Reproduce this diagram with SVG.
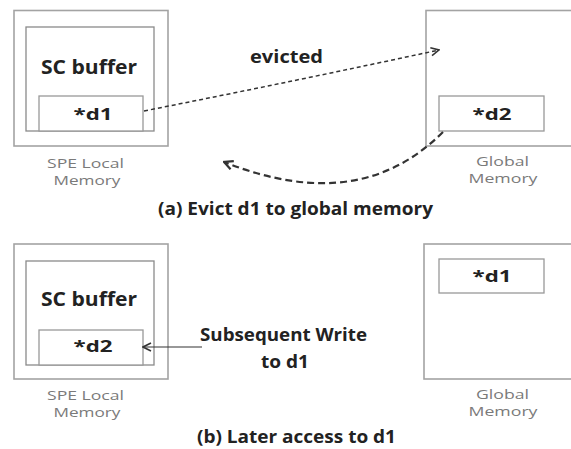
<svg xmlns="http://www.w3.org/2000/svg" width="571" height="449" viewBox="0 0 571 449">
  <style>
    .outer { fill: #fff; stroke: #a3a3a3; stroke-width: 1.6; }
    .inner { fill: #fff; stroke: #8a8a8a; stroke-width: 1.3; }
    .cell  { fill: #fff; stroke: #999; stroke-width: 1.3; }
    .bold  { font-family: "Open Sans", Lato, "Liberation Sans", sans-serif; font-weight: bold; fill: #222; text-anchor: middle; }
    .gray  { font-family: "Open Sans", Lato, "Liberation Sans", sans-serif; fill: #7a7a7a; font-size: 13px; text-anchor: middle; }
    .big   { font-size: 19.5px; }
    .mid   { font-size: 16px; }
    .cap   { font-size: 17px; }
    .lbl   { font-size: 17px; }
  </style>
  <defs>
    <marker id="chev" viewBox="0 0 10 10" refX="9" refY="5" markerWidth="10" markerHeight="10" markerUnits="userSpaceOnUse" orient="auto">
      <polyline points="1,1 9,5 1,9" fill="none" stroke="#333" stroke-width="1.6"/>
    </marker>
    <marker id="chev2" viewBox="0 0 10 10" refX="9" refY="5" markerWidth="11" markerHeight="11" markerUnits="userSpaceOnUse" orient="auto">
      <polyline points="1,1 9,5 1,9" fill="none" stroke="#333" stroke-width="2"/>
    </marker>
  </defs>

  <!-- (a) SPE local memory with SC buffer holding d1 -->
  <g id="spe-local-a">
    <rect class="outer" x="14" y="10.5" width="154" height="135.5"/>
    <rect class="inner" x="26" y="27" width="128" height="104"/>
    <rect class="cell" x="39" y="96" width="104" height="35"/>
    <text class="bold big" x="89" y="74" textLength="96" lengthAdjust="spacingAndGlyphs">SC buffer</text>
    <text class="bold mid" x="93" y="120" textLength="39" lengthAdjust="spacingAndGlyphs">*d1</text>
    <text class="gray" x="85.5" y="168" textLength="77" lengthAdjust="spacingAndGlyphs">SPE Local</text>
    <text class="gray" x="87" y="185" textLength="67" lengthAdjust="spacingAndGlyphs">Memory</text>
  </g>

  <!-- (a) global memory holding d2 -->
  <g id="global-a">
    <rect class="outer" x="426" y="10.5" width="160" height="135.5"/>
    <rect class="cell" x="439" y="96" width="105" height="35"/>
    <text class="bold mid" x="492" y="120" textLength="39" lengthAdjust="spacingAndGlyphs">*d2</text>
    <text class="gray" x="502.5" y="166" textLength="53" lengthAdjust="spacingAndGlyphs">Global</text>
    <text class="gray" x="503" y="183" textLength="69" lengthAdjust="spacingAndGlyphs">Memory</text>
  </g>

  <!-- (b) SPE local memory with SC buffer holding d2 -->
  <g id="spe-local-b">
    <rect class="outer" x="14" y="244" width="154" height="135"/>
    <rect class="inner" x="26" y="261" width="128" height="104"/>
    <rect class="cell" x="39" y="330" width="104" height="35"/>
    <text class="bold big" x="89" y="306" textLength="96" lengthAdjust="spacingAndGlyphs">SC buffer</text>
    <text class="bold mid" x="93" y="352" textLength="39" lengthAdjust="spacingAndGlyphs">*d2</text>
    <text class="gray" x="85.5" y="400" textLength="77" lengthAdjust="spacingAndGlyphs">SPE Local</text>
    <text class="gray" x="87" y="417" textLength="67" lengthAdjust="spacingAndGlyphs">Memory</text>
  </g>

  <!-- (b) global memory holding d1 -->
  <g id="global-b">
    <rect class="outer" x="424" y="244" width="162" height="135"/>
    <rect class="cell" x="439" y="259" width="105" height="34"/>
    <text class="bold mid" x="492" y="282" textLength="39" lengthAdjust="spacingAndGlyphs">*d1</text>
    <text class="gray" x="502.5" y="399" textLength="53" lengthAdjust="spacingAndGlyphs">Global</text>
    <text class="gray" x="503" y="416" textLength="69" lengthAdjust="spacingAndGlyphs">Memory</text>
  </g>

  <!-- connectors -->
  <g id="connectors" fill="none">
    <path d="M144,111 Q300,80 439,50" stroke="#333" stroke-width="1.5" stroke-dasharray="4 3" marker-end="url(#chev)"/>
    <path d="M443,132 C390,185 320,200 224,162" stroke="#333" stroke-width="2.2" stroke-dasharray="7 4" marker-end="url(#chev2)"/>
    <path d="M202,347 L143,347" stroke="#333" stroke-width="1.2" marker-end="url(#chev)"/>
  </g>

  <!-- labels and captions -->
  <text class="bold lbl" x="286.5" y="63" textLength="73" lengthAdjust="spacingAndGlyphs">evicted</text>
  <text class="bold cap" x="295.5" y="215" textLength="275" lengthAdjust="spacingAndGlyphs">(a) Evict d1 to global memory</text>
  <text class="bold lbl" x="283.5" y="341" textLength="167" lengthAdjust="spacingAndGlyphs">Subsequent Write</text>
  <text class="bold lbl" x="285" y="368" textLength="48" lengthAdjust="spacingAndGlyphs">to d1</text>
  <text class="bold cap" x="296.5" y="443" textLength="199" lengthAdjust="spacingAndGlyphs">(b) Later access to d1</text>
</svg>
